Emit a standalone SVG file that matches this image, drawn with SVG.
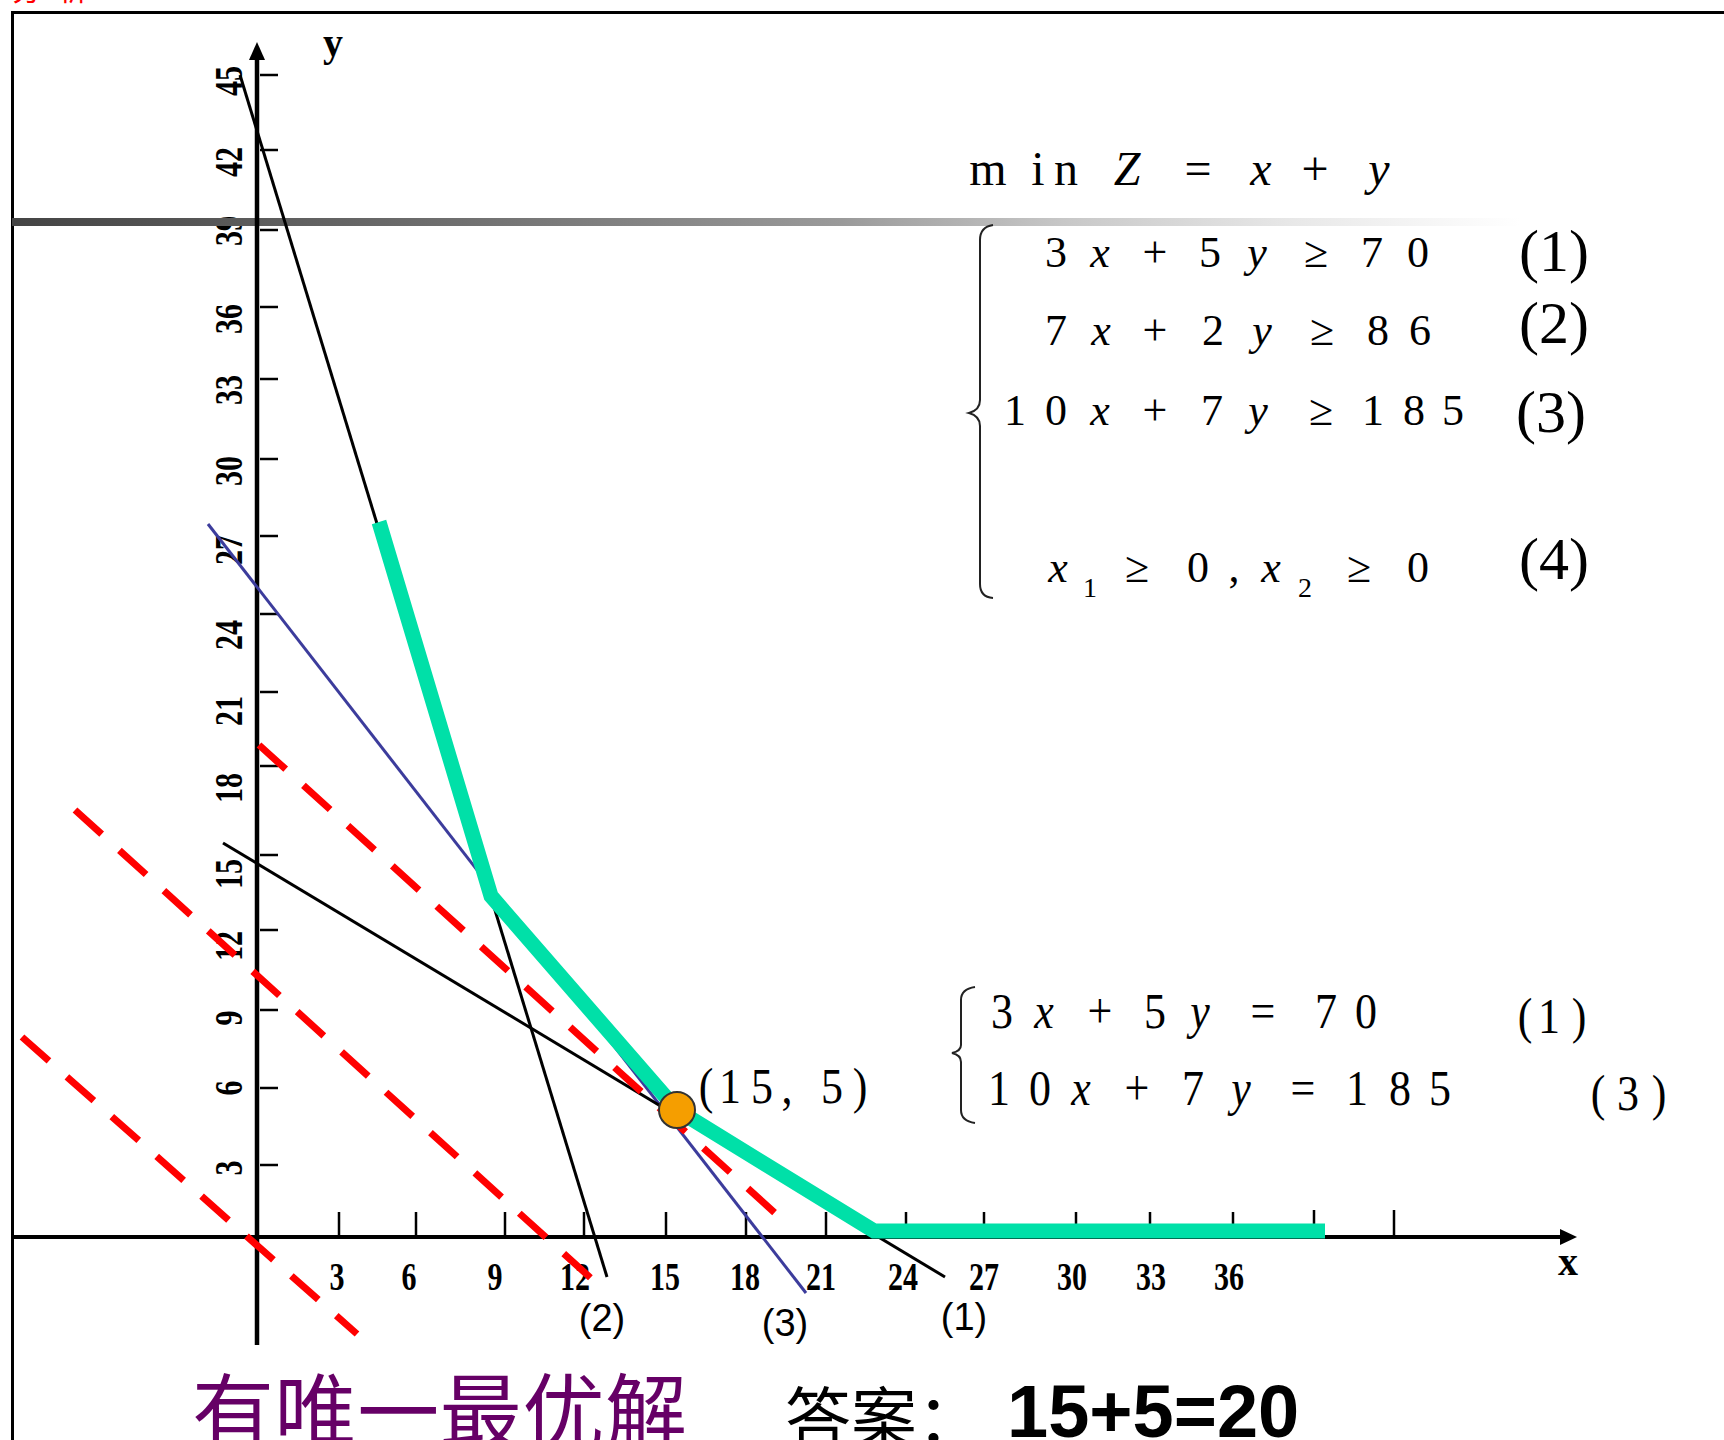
<svg xmlns="http://www.w3.org/2000/svg" width="1724" height="1440" viewBox="0 0 1724 1440">
<style>
.ser{font-family:"Liberation Serif","Times New Roman",serif;fill:#000}
.tick{stroke:#000;stroke-width:2.5}
.lab{font-family:"Liberation Serif",serif;font-weight:bold;font-size:30px;text-anchor:middle}
.m{font-family:"Liberation Serif",serif;font-size:44px;text-anchor:middle}
.i{font-style:italic}
.red{fill:none;stroke:#ff0000;stroke-width:7;stroke-dasharray:36 24}
.cn{font-family:"Noto Sans CJK SC","Noto Sans",sans-serif}
.brace{fill:none;stroke:#222;stroke-width:2}
</style>
<defs>
<linearGradient id="band" x1="0" y1="0" x2="1" y2="0">
<stop offset="0" stop-color="#444"/>
<stop offset="0.3" stop-color="#707070"/>
<stop offset="0.55" stop-color="#9a9a9a"/>
<stop offset="0.7" stop-color="#c8c8c8"/>
<stop offset="0.85" stop-color="#e8e8e8"/>
<stop offset="1" stop-color="#fff"/>
</linearGradient>
</defs>
<rect width="1724" height="1440" fill="#fff"/>
<text x="12" y="0" class="cn" font-size="30" fill="#ff0000" letter-spacing="16">分析</text>
<path d="M12.5,1440 V12.5 H1724" fill="none" stroke="#000" stroke-width="3"/>

<g id="y-labels" class="ser">
<text class="lab" transform="translate(242,81) rotate(-90) scale(1,1.3)">45</text>
<text class="lab" transform="translate(242,162) rotate(-90) scale(1,1.3)">42</text>
<text class="lab" transform="translate(242,231) rotate(-90) scale(1,1.3)">39</text>
<text class="lab" transform="translate(242,319) rotate(-90) scale(1,1.3)">36</text>
<text class="lab" transform="translate(242,390) rotate(-90) scale(1,1.3)">33</text>
<text class="lab" transform="translate(242,471) rotate(-90) scale(1,1.3)">30</text>
<text class="lab" transform="translate(242,550) rotate(-90) scale(1,1.3)">27</text>
<text class="lab" transform="translate(242,635) rotate(-90) scale(1,1.3)">24</text>
<text class="lab" transform="translate(242,711) rotate(-90) scale(1,1.3)">21</text>
<text class="lab" transform="translate(242,788) rotate(-90) scale(1,1.3)">18</text>
<text class="lab" transform="translate(242,874) rotate(-90) scale(1,1.3)">15</text>
<text class="lab" transform="translate(242,946) rotate(-90) scale(1,1.3)">12</text>
<text class="lab" transform="translate(242,1018) rotate(-90) scale(1,1.3)">9</text>
<text class="lab" transform="translate(242,1088) rotate(-90) scale(1,1.3)">6</text>
<text class="lab" transform="translate(242,1168) rotate(-90) scale(1,1.3)">3</text>
</g>

<rect x="12" y="218" width="1508" height="8" fill="url(#band)"/>

<g id="x-labels" class="ser">
<text class="lab" transform="translate(337,1290) scale(1,1.3)">3</text>
<text class="lab" transform="translate(409,1290) scale(1,1.3)">6</text>
<text class="lab" transform="translate(495,1290) scale(1,1.3)">9</text>
<text class="lab" transform="translate(575,1290) scale(1,1.3)">12</text>
<text class="lab" transform="translate(665,1290) scale(1,1.3)">15</text>
<text class="lab" transform="translate(745,1290) scale(1,1.3)">18</text>
<text class="lab" transform="translate(821,1290) scale(1,1.3)">21</text>
<text class="lab" transform="translate(903,1290) scale(1,1.3)">24</text>
<text class="lab" transform="translate(984,1290) scale(1,1.3)">27</text>
<text class="lab" transform="translate(1072,1290) scale(1,1.3)">30</text>
<text class="lab" transform="translate(1151,1290) scale(1,1.3)">33</text>
<text class="lab" transform="translate(1229,1290) scale(1,1.3)">36</text>
</g>

<g id="axes">
<line x1="257" y1="1345" x2="257" y2="55" stroke="#000" stroke-width="4.5"/>
<polygon points="257,42 249,60 265,60" fill="#000"/>
<line x1="12" y1="1237" x2="1562" y2="1237" stroke="#000" stroke-width="4"/>
<polygon points="1577,1237 1560,1229 1560,1245" fill="#000"/>
<g class="tick">
<line x1="260" y1="75" x2="278" y2="75"/><line x1="260" y1="150" x2="278" y2="150"/>
<line x1="260" y1="230" x2="278" y2="230"/><line x1="260" y1="307" x2="278" y2="307"/>
<line x1="260" y1="379" x2="278" y2="379"/><line x1="260" y1="459" x2="278" y2="459"/>
<line x1="260" y1="536" x2="278" y2="536"/><line x1="260" y1="614" x2="278" y2="614"/>
<line x1="260" y1="692" x2="278" y2="692"/><line x1="260" y1="766" x2="278" y2="766"/>
<line x1="260" y1="855" x2="278" y2="855"/><line x1="260" y1="930" x2="278" y2="930"/>
<line x1="260" y1="1010" x2="278" y2="1010"/><line x1="260" y1="1088" x2="278" y2="1088"/>
<line x1="260" y1="1165" x2="278" y2="1165"/>
<line x1="339" y1="1212" x2="339" y2="1236"/><line x1="416" y1="1212" x2="416" y2="1236"/>
<line x1="505" y1="1212" x2="505" y2="1236"/><line x1="584" y1="1212" x2="584" y2="1236"/>
<line x1="666" y1="1212" x2="666" y2="1236"/><line x1="746" y1="1212" x2="746" y2="1236"/>
<line x1="826" y1="1212" x2="826" y2="1236"/><line x1="906" y1="1212" x2="906" y2="1236"/>
<line x1="984" y1="1212" x2="984" y2="1236"/><line x1="1076" y1="1212" x2="1076" y2="1236"/>
<line x1="1150" y1="1212" x2="1150" y2="1236"/><line x1="1233" y1="1212" x2="1233" y2="1236"/>
<line x1="1314" y1="1210" x2="1314" y2="1236"/><line x1="1394" y1="1210" x2="1394" y2="1236"/>
</g>
<text x="333" y="56" class="ser" font-weight="bold" font-size="40" text-anchor="middle">y</text>
<text x="1568" y="1275" class="ser" font-weight="bold" font-size="40" text-anchor="middle">x</text>
</g>

<g id="connectors">
<line id="c2" x1="240" y1="75" x2="607" y2="1277" stroke="#000" stroke-width="3"/>
<line id="c3" x1="208" y1="524" x2="806" y2="1293" stroke="#3c3c9c" stroke-width="3"/>
<line id="c1" x1="223" y1="843" x2="945" y2="1277" stroke="#000" stroke-width="3"/>
<line class="red" x1="259" y1="745" x2="775" y2="1213"/>
<line class="red" x1="75" y1="810" x2="594" y2="1281"/>
<line class="red" x1="22" y1="1037" x2="357" y2="1334"/>
<polyline points="379,522 491,896 677,1110 874,1231 1325,1231" fill="none" stroke="#00e0a8" stroke-width="15"/>
</g>

<g id="line-labels" font-family="'Liberation Sans',Arial,sans-serif" font-size="38" text-anchor="middle">
<text x="602" y="1331">(2)</text>
<text x="785" y="1336">(3)</text>
<text x="964" y="1330">(1)</text>
</g>

<g id="optimum">
<circle cx="677" cy="1110" r="18" fill="#f59e00" stroke="#333" stroke-width="2"/>
<g class="m" transform="translate(0,1103) scale(1,1.15)">
<text x="706" y="0">(</text><text x="730" y="0">1</text><text x="762" y="0">5</text><text x="787" y="0">,</text><text x="832" y="0">5</text><text x="860" y="0">)</text>
</g>
</g>

<g id="model">
<g class="ser" font-size="48" text-anchor="middle">
<text x="988" y="185">m</text><text x="1038" y="185">i</text><text x="1066" y="185">n</text>
<text x="1127" y="185" font-style="italic">Z</text><text x="1198" y="185">=</text>
<text x="1261" y="185" font-style="italic">x</text><text x="1315" y="185">+</text>
<text x="1379" y="185" font-style="italic">y</text>
</g>
<path class="brace" d="M993,225 Q980,227 980,240 V400 Q980,410 969,413 Q980,416 980,426 V584 Q980,597 993,598"/>
<g class="ser m">
<text x="1056" y="267">3</text><text x="1100" y="267" class="i">x</text><text x="1155" y="267">+</text><text x="1210" y="267">5</text><text x="1257" y="267" class="i">y</text><text x="1316" y="267">≥</text><text x="1372" y="267">7</text><text x="1418" y="267">0</text>
<text x="1056" y="345">7</text><text x="1101" y="345" class="i">x</text><text x="1155" y="345">+</text><text x="1213" y="345">2</text><text x="1262" y="345" class="i">y</text><text x="1322" y="345">≥</text><text x="1378" y="345">8</text><text x="1420" y="345">6</text>
<text x="1015" y="425">1</text><text x="1056" y="425">0</text><text x="1100" y="425" class="i">x</text><text x="1155" y="425">+</text><text x="1212" y="425">7</text><text x="1258" y="425" class="i">y</text><text x="1321" y="425">≥</text><text x="1373" y="425">1</text><text x="1414" y="425">8</text><text x="1453" y="425">5</text>
<text x="1058" y="582" class="i">x</text><text x="1090" y="597" font-size="28">1</text><text x="1137" y="582">≥</text><text x="1198" y="582">0</text><text x="1234" y="582">,</text><text x="1271" y="582" class="i">x</text><text x="1305" y="597" font-size="28">2</text><text x="1359" y="582">≥</text><text x="1418" y="582">0</text>
</g>
<g class="ser" font-size="60" text-anchor="middle">
<text x="1554" y="271">(1)</text>
<text x="1554" y="343">(2)</text>
<text x="1551" y="432">(3)</text>
<text x="1554" y="579">(4)</text>
</g>
</g>

<g id="system">
<path class="brace" d="M975,987 Q961,989 961,1000 V1045 Q961,1051 952,1053 Q961,1055 961,1062 V1110 Q961,1121 975,1123"/>
<g class="m" transform="translate(0,1028) scale(1,1.15)">
<text x="1002" y="0">3</text><text x="1044" y="0" class="i">x</text><text x="1100" y="0">+</text><text x="1155" y="0">5</text><text x="1200" y="0" class="i">y</text><text x="1263" y="0">=</text><text x="1326" y="0">7</text><text x="1366" y="0">0</text>
<text x="1525" y="4">(</text><text x="1549" y="4">1</text><text x="1579" y="4">)</text>
</g>
<g class="m" transform="translate(0,1105) scale(1,1.15)">
<text x="999" y="0">1</text><text x="1040" y="0">0</text><text x="1081" y="0" class="i">x</text><text x="1137" y="0">+</text><text x="1193" y="0">7</text><text x="1241" y="0" class="i">y</text><text x="1303" y="0">=</text><text x="1357" y="0">1</text><text x="1400" y="0">8</text><text x="1440" y="0">5</text>
<text x="1598" y="4">(</text><text x="1628" y="4">3</text><text x="1659" y="4">)</text>
</g>
</g>

<g id="answer">
<text x="192" y="1442" class="cn" font-size="82" fill="#660066" textLength="495">有唯一最优解</text>
<text x="785" y="1442" class="cn" font-size="66" fill="#000">答案：</text>
<text x="1007" y="1437" font-family="'Liberation Sans',Arial,sans-serif" font-weight="bold" font-size="74" fill="#000">15+5=20</text>
</g>
</svg>
